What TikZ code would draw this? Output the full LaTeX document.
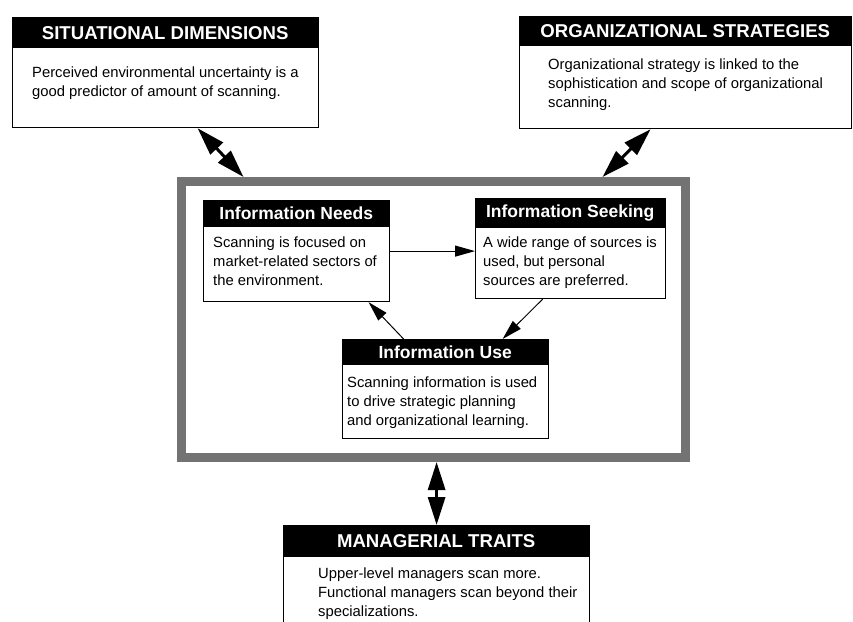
\documentclass[tikz,border=0pt]{standalone}
\usepackage{fontspec}
\setmainfont{Liberation Sans}
\usetikzlibrary{arrows.meta}

\begin{document}
\begin{tikzpicture}[x=1pt,y=-1pt,
  ring/.style={draw=black!55,line width=9pt,anchor=north west,inner sep=0pt,minimum width=504pt,minimum height=276pt},
  panel/.style={draw,line width=1.2pt,fill=white,anchor=north west,inner sep=0pt},
  head/.style={fill=black,text=white,anchor=north west,inner sep=0pt,font=\fontsize{17.5}{20}\selectfont\bfseries},
  caps/.style={font=\fontsize{18.6}{20}\selectfont\bfseries},
  note/.style={anchor=base west,align=left,inner sep=0pt,font=\fontsize{14.8}{19}\selectfont},
  link/.style={-{Triangle[length=20pt,width=11pt]},line width=1pt},
  twoway/.style={{Triangle[length=28pt,width=17pt]}-{Triangle[length=28pt,width=17pt]},line width=3pt}]
  \useasboundingbox (0,0) rectangle (853,621);

  \node[ring] (frame) at (177,177) {};

  \node[panel,minimum width=306pt,minimum height=110pt] (sit) at (12,17) {};
  \node[head,caps,minimum width=306pt,minimum height=31pt] (sitH) at (sit.north west) {SITUATIONAL DIMENSIONS};
  \node[note] (sitT) at (32,96) {Perceived environmental uncertainty is a\\good predictor of amount of scanning.};

  \node[panel,minimum width=332pt,minimum height=112pt] (org) at (519,16) {};
  \node[head,caps,minimum width=332pt,minimum height=30pt] (orgH) at (org.north west) {ORGANIZATIONAL STRATEGIES};
  \node[note] (orgT) at (548,107) {Organizational strategy is linked to the\\sophistication and scope of organizational\\scanning.};

  \node[panel,minimum width=186pt,minimum height=101pt] (needs) at (203,200) {};
  \node[head,minimum width=186pt,minimum height=27pt] (needsH) at (needs.north west) {Information Needs};
  \node[note] (needsT) at (213,285) {Scanning is focused on\\market-related sectors of\\the environment.};

  \node[panel,minimum width=190pt,minimum height=100pt] (seek) at (475,198) {};
  \node[head,minimum width=190pt,minimum height=30pt] (seekH) at (seek.north west) {Information Seeking};
  \node[note] (seekT) at (483,285) {A wide range of sources is\\used, but personal\\sources are preferred.};

  \node[panel,minimum width=206pt,minimum height=99pt] (use) at (342,339) {};
  \node[head,minimum width=206pt,minimum height=26pt] (useH) at (use.north west) {Information Use};
  \node[note] (useT) at (347,425) {Scanning information is used\\to drive strategic planning\\and organizational learning.};

  \node[panel,minimum width=306pt,minimum height=110pt] (trait) at (283,525) {};
  \node[head,caps,minimum width=306pt,minimum height=32pt] (traitH) at (trait.north west) {MANAGERIAL TRAITS};
  \node[note] (traitT) at (318,616) {Upper-level managers scan more.\\Functional managers scan beyond their\\specializations.};

  \draw[link] (needs.east) -- (needs.east -| seek.west);
  \draw[link] ([xshift=-42pt]use.north) -- ([xshift=72pt]needs.south);
  \draw[link] ([xshift=-28pt]seek.south) -- ([xshift=57pt]use.north);
  \draw[twoway] ([xshift=32pt]sit.south) -- ([xshift=-190pt]frame.north);
  \draw[twoway] ([xshift=-35pt]org.south) -- ([xshift=169pt]frame.north);
  \draw[twoway] (trait.north |- frame.south) -- (trait.north);
\end{tikzpicture}
\end{document}
